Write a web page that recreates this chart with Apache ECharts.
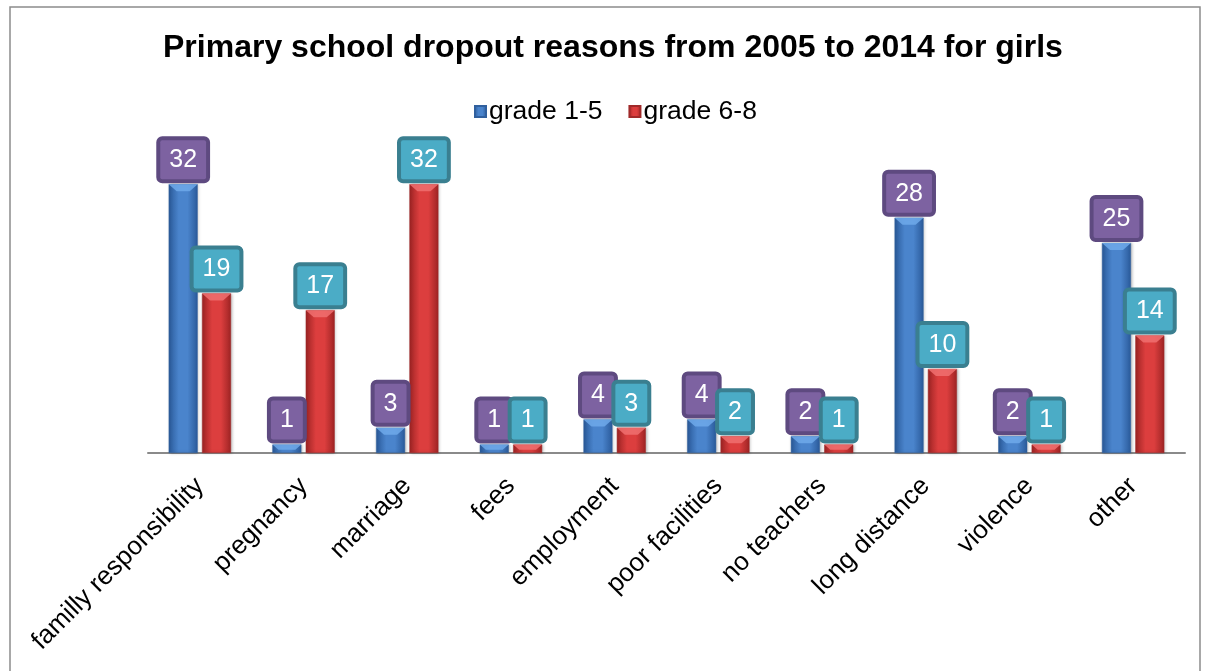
<!DOCTYPE html>
<html>
<head>
<meta charset="utf-8">
<script src="https://cdn.jsdelivr.net/npm/echarts@6/dist/echarts.min.js"></script>
<style>
html,body{margin:0;padding:0;background:#fff;}
#chart{width:1206px;height:671px;}
</style>
</head>
<body>
<div id="chart"></div>
<script>
const categories = ['familly responsibility','pregnancy','marriage','fees','employment','poor facilities','no teachers','long distance','violence','other'];
const grade15 = [32, 1, 3, 1, 4, 4, 2, 28, 2, 25];
const grade68 = [19, 17, 32, 1, 3, 2, 1, 10, 1, 14];
const seriesNames = ['grade 1-5', 'grade 6-8'];
const titleText = 'Primary school dropout reasons from 2005 to 2014 for girls';

const BAR_W = 29;
const BAR_GAP = 0.15;

function hGrad(edge, mid) {
  return new echarts.graphic.LinearGradient(0, 0, 1, 0, [
    {offset: 0, color: edge},
    {offset: 0.35, color: mid},
    {offset: 0.65, color: mid},
    {offset: 1, color: edge}
  ]);
}

const chart = echarts.init(document.getElementById('chart'), null, {renderer: 'canvas'});
const labelFont = 'Liberation Sans, Arial, sans-serif';

function boxLabel(fill, border) {
  return {
    show: true,
    position: 'top',
    distance: 5,
    color: '#fff',
    fontFamily: labelFont,
    fontSize: 25,
    backgroundColor: fill,
    borderColor: border,
    borderWidth: 4,
    borderRadius: 2,
    padding: [6, 9, 5, 9],
    lineHeight: 28
  };
}

// bevel on top of each bar (drawn through the axis scales)
function bevelSeries(values, side, color) {
  const offset = side * (BAR_W * (1 + BAR_GAP)) / 2;
  return {
    type: 'custom',
    z: 3,
    silent: true,
    data: values.map((v, i) => [i, v]),
    renderItem: function (params, api) {
      const p = api.coord([api.value(0), api.value(1)]);
      const base = api.coord([api.value(0), 0]);
      const cx = p[0] + offset;
      const h = Math.min(7, (base[1] - p[1]) * 0.6);
      const half = BAR_W / 2;
      const inset = Math.min(8, h * 1.2);
      return {
        type: 'polygon',
        shape: {points: [[cx - half, p[1]], [cx + half, p[1]], [cx + half - inset, p[1] + h], [cx - half + inset, p[1] + h]]},
        style: {fill: color, opacity: 0.85}
      };
    }
  };
}

chart.setOption({
  animation: false,
  backgroundColor: '#fff',
  graphic: [{
    type: 'rect',
    shape: {x: 10, y: 7, width: 1190, height: 700},
    style: {fill: 'none', stroke: '#8c8c8c', lineWidth: 1.5},
    silent: true
  }],
  title: {
    text: titleText,
    left: 158,
    top: 27,
    textStyle: {fontFamily: labelFont, fontWeight: 'bold', fontSize: 32, color: '#000'}
  },
  legend: {
    top: 93,
    left: 469,
    itemWidth: 11,
    itemHeight: 11,
    itemGap: 26,
    icon: 'rect',
    textStyle: {fontFamily: labelFont, fontSize: 26.5, color: '#000', padding: [0,0,0,-2]},
    data: seriesNames
  },
  grid: {left: 148, right: 21, top: 117, bottom: 218, containLabel: false},
  xAxis: {
    type: 'category',
    data: categories,
    axisLine: {lineStyle: {color: '#8a8a8a', width: 2}},
    axisTick: {show: false},
    axisLabel: {
      rotate: 45,
      interval: 0,
      margin: 29,
      color: '#000',
      fontFamily: labelFont,
      fontSize: 26
    }
  },
  yAxis: {
    type: 'value',
    min: 0,
    max: 40,
    show: false,
    splitLine: {show: false}
  },
  series: [{
    name: seriesNames[0],
    type: 'bar',
    data: grade15,
    barWidth: BAR_W,
    barGap: (BAR_GAP * 100) + '%',
    itemStyle: {
      color: hGrad('#2a5a9a', '#4a84cc'),
      borderColor: '#30609e',
      borderWidth: 0.5,
      shadowColor: 'rgba(0,0,0,0.25)',
      shadowBlur: 3,
      shadowOffsetX: 1
    },
    label: boxLabel('#7d62a1', '#5e4a80')
  }, {
    name: seriesNames[1],
    type: 'bar',
    data: grade68,
    barWidth: BAR_W,
    itemStyle: {
      color: hGrad('#9e2424', '#dc3e3e'),
      borderColor: '#a02a2a',
      borderWidth: 0.5,
      shadowColor: 'rgba(0,0,0,0.25)',
      shadowBlur: 3,
      shadowOffsetX: 1
    },
    label: boxLabel('#4bacc6', '#3a7f90')
  },
  bevelSeries(grade15, -1, '#6ea9ea'),
  bevelSeries(grade68, 1, '#f07070')
  ]
});
</script>
</body>
</html>
